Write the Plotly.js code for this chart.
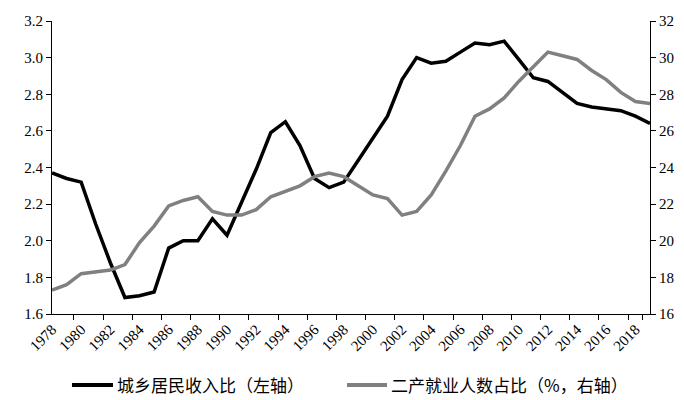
<!DOCTYPE html>
<html>
<head>
<meta charset="utf-8">
<script src="https://cdn.plot.ly/plotly-3.0.1.min.js"></script>
<style>html,body{margin:0;padding:0;background:#fff;}#chart{width:684px;height:400px;}</style>
</head>
<body>
<div id="chart"></div>
<script>
const years = ['1978','1979','1980','1981','1982','1983','1984','1985','1986','1987','1988','1989','1990','1991','1992','1993','1994','1995','1996','1997','1998','1999','2000','2001','2002','2003','2004','2005','2006','2007','2008','2009','2010','2011','2012','2013','2014','2015','2016','2017','2018','2019'];
const incomeRatio = [2.37,2.34,2.32,2.09,1.88,1.69,1.70,1.72,1.96,2.00,2.00,2.12,2.03,2.21,2.39,2.59,2.65,2.52,2.34,2.29,2.32,2.44,2.56,2.68,2.88,3.00,2.97,2.98,3.03,3.08,3.07,3.09,2.99,2.89,2.87,2.81,2.75,2.73,2.72,2.71,2.68,2.64];
const secondaryShare = [17.3,17.6,18.2,18.3,18.4,18.7,19.9,20.8,21.9,22.2,22.4,21.6,21.4,21.4,21.7,22.4,22.7,23.0,23.5,23.7,23.5,23.0,22.5,22.3,21.4,21.6,22.5,23.8,25.2,26.8,27.2,27.8,28.7,29.5,30.3,30.1,29.9,29.3,28.8,28.1,27.6,27.5];
const tickYears = years.filter((y,i)=>i%2===0);
const name1 = '城乡居民收入比（左轴）';
const name2 = '二产就业人数占比（%，右轴）';

const serif = '"Liberation Serif", "Times New Roman", "DejaVu Serif", serif';
const cjk = '"Noto Sans CJK SC", sans-serif';
const black = '#000000', grey = '#808080';
const traces = [
  {x: years, y: incomeRatio, name: name1, type:'scatter', mode:'lines', line:{color:black, width:3.5}, yaxis:'y'},
  {x: years, y: secondaryShare, name: name2, type:'scatter', mode:'lines', line:{color:grey, width:3.5}, yaxis:'y2'}
];
const legY = -0.2423;
const layout = {
  width:684, height:400,
  margin:{l:52, r:34, t:21, b:86},
  paper_bgcolor:'#ffffff', plot_bgcolor:'#ffffff',
  font:{family:serif, color:'#000'},
  showlegend:false,
  xaxis:{type:'category', tickmode:'array', tickvals:tickYears, ticktext:tickYears,
         tickson:'boundaries', ticks:'outside', ticklen:5, tickcolor:'#000', tickangle:-45,
         showline:true, linecolor:'#000', linewidth:1, showgrid:false, zeroline:false, automargin:false,
         tickfont:{family:serif, size:15, color:'#000'}},
  yaxis:{range:[1.6,3.2], dtick:0.2, tickformat:'.1f', ticks:'outside', ticklen:5, tickcolor:'#000',
         showline:true, linecolor:'#000', linewidth:1, showgrid:false, zeroline:false, automargin:false,
         tickfont:{family:serif, size:15, color:'#000'}},
  yaxis2:{range:[16,32], dtick:2, overlaying:'y', side:'right', ticks:'outside', ticklen:5, tickcolor:'#000',
         showline:true, linecolor:'#000', linewidth:1, showgrid:false, zeroline:false, automargin:false,
         tickfont:{family:serif, size:15, color:'#000'}},
  shapes:[
    {type:'line', xref:'paper', yref:'paper', x0:0.0334, x1:0.102, y0:legY, y1:legY, line:{color:black, width:4}},
    {type:'line', xref:'paper', yref:'paper', x0:0.4933, x1:0.5602, y0:legY, y1:legY, line:{color:grey, width:4}}
  ],
  annotations:[
    {xref:'paper', yref:'paper', x:0.1054, y:legY, xanchor:'left', yanchor:'middle', showarrow:false, text:name1, font:{family:cjk, size:17, color:'#000'}},
    {xref:'paper', yref:'paper', x:0.5635, y:legY, xanchor:'left', yanchor:'middle', showarrow:false, text:name2, font:{family:cjk, size:17, color:'#000'}}
  ]
};
Plotly.newPlot('chart', traces, layout, {displayModeBar:false, staticPlot:true});
</script>
</body>
</html>
